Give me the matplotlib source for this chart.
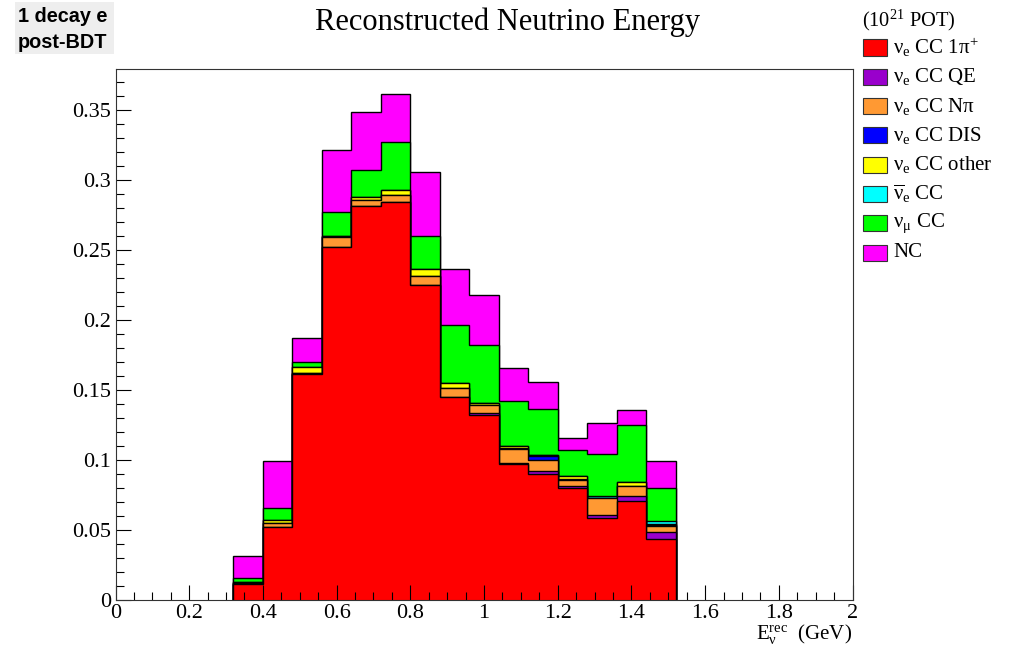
import numpy as np
import matplotlib
matplotlib.use("Agg")
import matplotlib.pyplot as plt
from matplotlib.patches import Rectangle
from matplotlib.ticker import MultipleLocator, FuncFormatter

plt.rcParams['font.family'] = ['Liberation Serif', 'DejaVu Serif']
plt.rcParams['mathtext.fontset'] = 'custom'
plt.rcParams['mathtext.rm'] = 'Liberation Serif'
plt.rcParams['mathtext.it'] = 'Liberation Serif:italic'
plt.rcParams['mathtext.bf'] = 'Liberation Serif:bold'

# ---- data ----
bin_edges = np.round(np.arange(0.32, 1.52 + 1e-9, 0.08), 2)
nue_cc_1pi = [0.0116, 0.052, 0.161, 0.252, 0.281, 0.284, 0.225, 0.145, 0.132, 0.0974, 0.0896, 0.080, 0.0585, 0.0708, 0.0435]
nue_cc_qe = [0, 0, 0, 0, 0, 0, 0, 0, 0.0017, 0.0005, 0.0028, 0.0017, 0.002, 0.0033, 0.005]
nue_cc_npi = [0.0005, 0.003, 0.001, 0.007, 0.0043, 0.005, 0.0062, 0.0064, 0.0054, 0.010, 0.0076, 0.0043, 0.012, 0.0076, 0.0045]
nue_cc_dis = [0, 0, 0, 0, 0, 0, 0, 0, 0, 0.0005, 0.0026, 0.0005, 0, 0, 0.0005]
nue_cc_other = [0.0008, 0.002, 0.0045, 0.0005, 0.002, 0.0035, 0.0048, 0.0036, 0.0012, 0.0015, 0.001, 0.002, 0, 0.0026, 0.001]
nuebar_cc = [0, 0, 0, 0, 0, 0, 0, 0, 0, 0, 0, 0, 0.0015, 0, 0.002]
numu_cc = [0.0026, 0.009, 0.0035, 0.0175, 0.0197, 0.0345, 0.024, 0.0415, 0.0415, 0.0322, 0.033, 0.0189, 0.0301, 0.0407, 0.0231]
nc = [0.0159, 0.0329, 0.017, 0.044, 0.041, 0.034, 0.0458, 0.0399, 0.0356, 0.0238, 0.019, 0.0083, 0.0223, 0.0109, 0.0195]

components = [nue_cc_1pi, nue_cc_qe, nue_cc_npi, nue_cc_dis, nue_cc_other, nuebar_cc, numu_cc, nc]
labels = [r'$\mathrm{\nu_{e}}$ CC 1$\mathrm{\pi^{+}}$',
          r'$\mathrm{\nu_{e}}$ CC QE',
          r'$\mathrm{\nu_{e}}$ CC N$\mathrm{\pi}$',
          r'$\mathrm{\nu_{e}}$ CC DIS',
          r'$\mathrm{\nu_{e}}$ CC other',
          r'$\mathrm{\overline{\nu}_{e}}$ CC',
          r'$\mathrm{\nu_{\mu}}$ CC',
          'NC']
colors = ['#ff0000', '#9900cc', '#ff9933', '#0000ff', '#ffff00', '#00ffff', '#00ff00', '#ff00ff']

W, H = 1015, 654
fig = plt.figure(figsize=(W / 100, H / 100), dpi=100)
ax = fig.add_axes([115.5 / W, 1 - 600 / H, (852.5 - 115.5) / W, (600 - 69) / H])

cum = np.cumsum(np.array(components, dtype=float), axis=0)
for i in range(len(components) - 1, -1, -1):
    ax.stairs(cum[i], bin_edges, baseline=0, fill=True, facecolor=colors[i],
              edgecolor='black', linewidth=1.0)

ax.set_xlim(0, 2)
ax.set_ylim(0, 0.379)
ax.xaxis.set_major_locator(MultipleLocator(0.2))
ax.xaxis.set_minor_locator(MultipleLocator(0.05))
ax.yaxis.set_major_locator(MultipleLocator(0.05))
ax.yaxis.set_minor_locator(MultipleLocator(0.01))

def fmt(v, pos):
    s = ('%.2f' % v).rstrip('0').rstrip('.')
    return s
ax.xaxis.set_major_formatter(FuncFormatter(fmt))
ax.yaxis.set_major_formatter(FuncFormatter(fmt))
ax.tick_params(which='both', direction='in', top=False, right=False, labelsize=16, color='black')
ax.tick_params(which='major', length=11, width=0.8)
ax.tick_params(which='minor', length=5.5, width=0.8)
ax.tick_params(axis='x', pad=3)
ax.tick_params(axis='y', pad=3)
for sp in ax.spines.values():
    sp.set_linewidth(0.8)
    sp.set_color('#333333')

fig.text(508 / W, 1 - 22 / H, 'Reconstructed Neutrino Energy', ha='center', va='center', fontsize=22)
fig.text(852 / W, 1 - 634 / H, r'$\mathrm{E_{\nu}^{rec}}$  (GeV)', ha='right', va='center', fontsize=15)

# top-left box
fig.patches.append(Rectangle((15 / W, 1 - 54 / H), 99 / W, 52 / H, transform=fig.transFigure,
                             facecolor='#eeeeee', edgecolor='none'))
fig.text(18 / W, 1 - 22 / H, '1 decay e', ha='left', va='baseline', fontsize=14.3,
         fontweight='bold', family=['Liberation Sans', 'DejaVu Sans'])
fig.text(18 / W, 1 - 48 / H, 'post-BDT', ha='left', va='baseline', fontsize=14.3,
         fontweight='bold', family=['Liberation Sans', 'DejaVu Sans'])

# legend
fig.text(862 / W, 1 - 20 / H, r'(10$^{21}$ POT)', ha='left', va='center', fontsize=14.7)
row0, dy = 47.5, 29.3
for i, (lab, c) in enumerate(zip(labels, colors)):
    yc = row0 + i * dy
    fig.patches.append(Rectangle((863 / W, 1 - (yc + 8) / H), 24 / W, 16 / H,
                                 transform=fig.transFigure, facecolor=c,
                                 edgecolor='#333333', linewidth=0.8))
    fig.text(893 / W, 1 - yc / H, lab, ha='left', va='center', fontsize=15)

fig.savefig('out.png', dpi=100)
